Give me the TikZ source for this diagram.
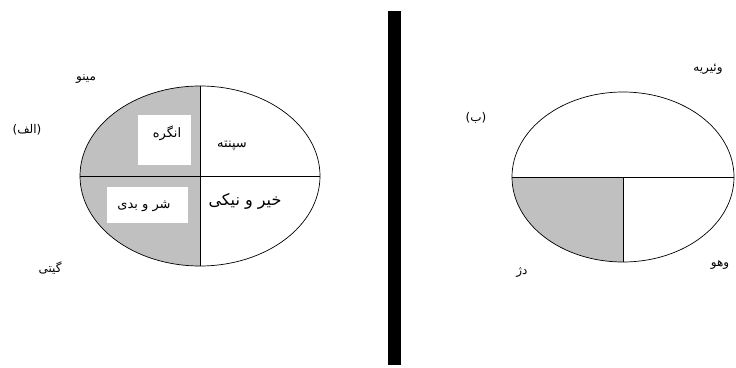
\documentclass[tikz,border=0pt]{standalone}
\usepackage{fontspec}
\usetikzlibrary{shapes.geometric}
\TeXXeTstate=1
\newfontfamily\fa[Script=Arabic]{DejaVu Sans}
\definecolor{quadgray}{RGB}{192,192,192}
\tikzset{
  lab/.style={inner sep=0pt, font=\fa\fontsize{12}{13}\selectfont},
  inlab/.style={inner sep=0pt, font=\fa\fontsize{13}{14}\selectfont},
  wbox/.style={rectangle, fill=white, draw=none, inner sep=0pt},
  oval/.style={ellipse, draw=black, line width=0.7pt, inner sep=0pt},
  divline/.style={draw=black, line width=0.9pt},
}
\begin{document}
\begin{tikzpicture}[x=1pt,y=-1pt]
\useasboundingbox (0,0) rectangle (736,367);
% left diagram
\begin{scope}
  \clip (0,0) rectangle (200,367);
  \fill[quadgray] (200,176) ellipse [x radius=120, y radius=90];
\end{scope}
\node[oval, minimum width=240pt, minimum height=180pt] (L) at (200,176) {};
\draw[divline] (L.north) -- (L.south);
\draw[divline] (L.west) -- (L.east);
\node[wbox, minimum width=53pt, minimum height=50pt] (b1) at (164.5,140) {};
\node[wbox, minimum width=81pt, minimum height=36pt] (b2) at (147.5,205) {};
\node[inlab] (t1) at (167,133) {\beginR انگره\endR};
\node[inlab] (t2) at (144,206) {\beginR شر و بدی\endR};
\node[inlab] (t3) at (232,146) {\beginR سپنته\endR};
\node[inlab, font=\fa\fontsize{16}{17}\selectfont] (t4) at (245,201) {\beginR خیر و نیکی\endR};
\node[lab] (t5) at (86,79) {\beginR مینو\endR};
\node[lab] (t6) at (27,130) {\beginR (الف)\endR};
\node[lab] (t7) at (50,268) {\beginR گیتی\endR};
% divider bar
\fill[black] (388,11) rectangle (401,365);
% right diagram
\begin{scope}
  \clip (0,177) rectangle (623,367);
  \fill[quadgray] (623,177) ellipse [x radius=111, y radius=85];
\end{scope}
\node[oval, minimum width=222pt, minimum height=170pt] (R) at (623,177) {};
\draw[divline] (R.west) -- (R.east);
\draw[divline] (R.center) -- (R.south);
\node[lab] (r1) at (708,69) {\beginR وئیریه\endR};
\node[lab] (r2) at (476,118) {\beginR (ب)\endR};
\node[lab] (r3) at (522,272) {\beginR دژ\endR};
\node[lab] (r4) at (720,265) {\beginR وهو\endR};
\end{tikzpicture}
\end{document}
